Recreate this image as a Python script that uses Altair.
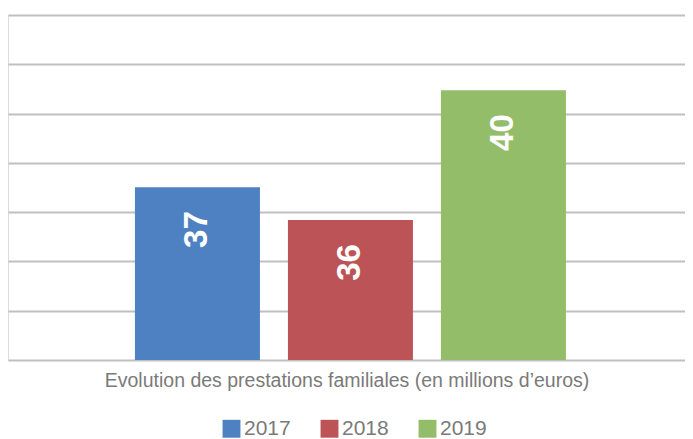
import altair as alt
import pandas as pd

years = ["2017", "2018", "2019"]
values = [36.76, 35.76, 39.71]
labels = ["37", "36", "40"]
colors = ["#4E81C1", "#BC5457", "#93BD68"]
grid_values = [31.5, 33, 34.5, 36, 37.5, 39, 40.5, 42]

df = pd.DataFrame({"year": years, "value": values, "label": labels})

FONT = "Liberation Sans"

xscale = alt.Scale(domain=years, paddingInner=0.183, paddingOuter=0.804, align=0.516)
x = alt.X("year:N", scale=xscale,
          axis=alt.Axis(labels=False, ticks=False, domain=False, grid=False,
                        title="Evolution des prestations familiales (en millions d\u2019euros)",
                        titleFont=FONT, titleFontSize=19.5, titleFontWeight="normal",
                        titleColor="#7a7a7a", titlePadding=11))
yscale = alt.Scale(domain=[31.5, 42], nice=False, zero=False)
y = alt.Y("value:Q", scale=yscale,
          axis=alt.Axis(values=grid_values, labels=False, ticks=False,
                        domain=False, title=None, grid=True, gridColor="#c0c0c0", gridWidth=1.8))

bars = alt.Chart(df).mark_bar().encode(
    x=x, y=y, y2=alt.datum(31.5),
    color=alt.Color("year:N", scale=alt.Scale(domain=years, range=colors),
                    legend=alt.Legend(orient="none", legendX=213, legendY=403, direction="horizontal", title=None,
                                      symbolType="square", symbolSize=320, symbolStrokeWidth=0,
                                      labelFont=FONT, labelFontSize=21, labelColor="#7a7a7a",
                                      columnPadding=28, symbolOffset=0, labelOffset=2)),
)

text = alt.Chart(df).mark_text(angle=270, align="right", baseline="middle", dx=-24,
                               color="white", font=FONT, fontSize=33, fontWeight="bold").encode(
    x=x, y=y, text="label:N")

chart = (
    (bars + text)
    .properties(width=677, height=345, padding={"left": 0, "right": 0, "top": 7, "bottom": 0},
                background="white")
    .configure_view(stroke="transparent", strokeWidth=0)
    .configure(font=FONT)
)

chart.save("out.html", embed_options={"renderer": "svg", "actions": False})
